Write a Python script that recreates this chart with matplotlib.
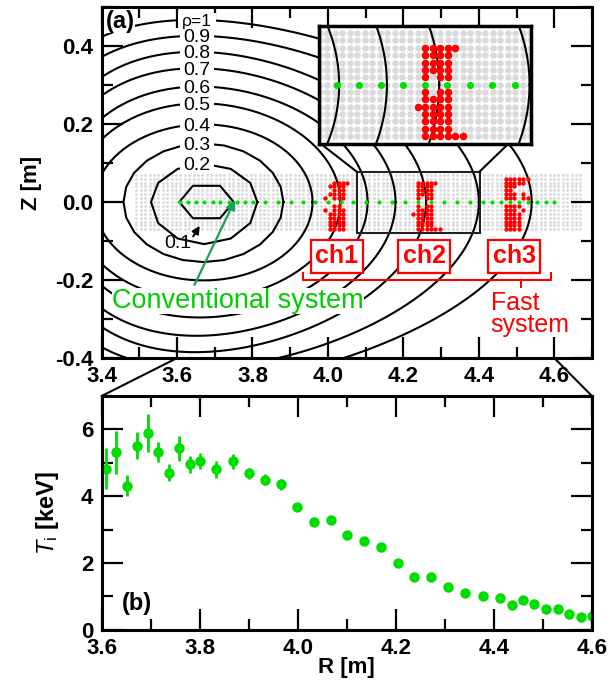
import numpy as np
import matplotlib.pyplot as plt
from matplotlib.patches import Rectangle, ConnectionPatch
from matplotlib.ticker import MultipleLocator, FormatStrFormatter

plt.rcParams['font.family'] = ['Liberation Sans', 'DejaVu Sans']
plt.rcParams['mathtext.fontset'] = 'custom'
plt.rcParams['mathtext.rm'] = 'Liberation Sans'
plt.rcParams['mathtext.it'] = 'Liberation Sans:italic'
plt.rcParams['mathtext.bf'] = 'Liberation Sans:bold'
plt.rcParams['axes.unicode_minus'] = False

# ---- flux surfaces (shape parameters)
rho_levels = [0.1, 0.2, 0.3, 0.4, 0.5, 0.6, 0.7, 0.8, 0.9, 1.0]
rho_text = ['0.1', '0.2', '0.3', '0.4', '0.5', '0.6', '0.7', '0.8', '0.9', 'ρ=1']
surf_R0 = [3.678, 3.672, 3.670, 3.670, 3.680, 3.700, 3.720, 3.750, 3.800, 3.850]
surf_a = [0.072, 0.141, 0.212, 0.289, 0.353, 0.405, 0.459, 0.510, 0.600, 0.690]
surf_top = [0.048, 0.098, 0.150, 0.199, 0.253, 0.296, 0.343, 0.385, 0.426, 0.467]
surf_bot = [0.048, 0.108, 0.154, 0.201, 0.250, 0.296, 0.343, 0.385, 0.426, 0.467]
surf_delta = [0.0, 0.0, 0.0, 0.0, 0.05, 0.10, 0.15, 0.20, 0.25, 0.30]
surf_npts = [6, 12, 24, 200, 200, 200, 200, 200, 200, 200]

# ---- detector grid (grey), fast channels (red), conventional channels (green)
grid_R0, grid_dR, grid_nR = 3.4924, 0.01165, 102
grid_Ztop, grid_dZ, grid_nZ = 0.07, 0.01, 15

fast_names = ['ch1', 'ch2', 'ch3']
fast_col0 = [43, 63, 84]
fast_pattern = [
    ['......', '......', '..####', '.####.', '..###.', '.####.', '#.###.', '......',
     '..##..', '#.###.', '.####.', '.####.', '.####.', '.####.', '.####.'],
    ['.......', '.......', '.#####.', '.####..', '.####..', '.####..', '.#.##..', '.......',
     '.#.##..', '.####..', '#####..', '.####..', '.####..', '.####..', '.######'],
    ['......', '######', '#####.', '###...', '##....', '###.#.', '###.##', '......',
     '####..', '###.#.', '####..', '####..', '####..', '####..', '####..'],
]
fast_label_R = [4.023, 4.255, 4.494]

# ---- Ti profile (conventional system)
R_ti = [3.609, 3.629, 3.651, 3.672, 3.694, 3.715, 3.737, 3.758, 3.780, 3.801,
        3.834, 3.867, 3.901, 3.934, 3.966, 3.999, 4.034, 4.067, 4.101, 4.135,
        4.170, 4.204, 4.238, 4.272, 4.307, 4.342, 4.377, 4.412, 4.436, 4.459,
        4.482, 4.506, 4.531, 4.554, 4.577, 4.599]
Ti = [4.83, 5.31, 4.32, 5.51, 5.89, 5.31, 4.71, 5.43, 4.96, 5.06,
      4.81, 5.05, 4.69, 4.50, 4.36, 3.68, 3.24, 3.29, 2.84, 2.67,
      2.49, 2.01, 1.57, 1.58, 1.29, 1.10, 1.01, 0.96, 0.75, 0.90,
      0.77, 0.63, 0.62, 0.47, 0.39, 0.42]
Ti_err = [0.60, 0.65, 0.31, 0.40, 0.57, 0.30, 0.24, 0.38, 0.25, 0.23,
          0.25, 0.22, 0.17, 0.17, 0.16, 0.10, 0.10, 0.10, 0.10, 0.10,
          0.10, 0.10, 0.10, 0.10, 0.10, 0.10, 0.10, 0.10, 0.10, 0.10,
          0.10, 0.10, 0.10, 0.10, 0.10, 0.10]

GREY = '#dadada'
RED = '#ff0000'
GREEN = '#00dd00'


def surface(i):
    t = np.linspace(0, 2 * np.pi, surf_npts[i] + 1)
    x = np.arcsin(surf_delta[i])
    R = surf_R0[i] + surf_a[i] * np.cos(t + x * np.sin(t))
    Z = np.where(np.sin(t) >= 0, surf_top[i], surf_bot[i]) * np.sin(t)
    return R, Z


grid_R = grid_R0 + grid_dR * np.arange(grid_nR)
grid_Z = grid_Ztop - grid_dZ * np.arange(grid_nZ)
GR, GZ = np.meshgrid(grid_R, grid_Z)

red_R, red_Z = [], []
for col0, pat in zip(fast_col0, fast_pattern):
    for r, row in enumerate(pat):
        for c, ch in enumerate(row):
            if ch == '#':
                red_R.append(grid_R[col0 + c])
                red_Z.append(grid_Z[r])

fig = plt.figure(figsize=(6.11, 6.86), dpi=100)
ax1 = fig.add_axes([0.1663, 0.4781, 0.8026, 0.5117])
ax2 = fig.add_axes([0.1663, 0.0819, 0.8026, 0.3408])


# ---------------- panel (a)
def draw_plasma(ax, big=False):
    ax.scatter(GR.ravel(), GZ.ravel(), s=22 if big else 4.5, color=GREY, lw=0, zorder=1)
    for i in range(len(rho_levels)):
        R, Z = surface(i)
        ax.plot(R, Z, color='black', lw=1.5, zorder=2)
    ax.scatter(red_R, red_Z, s=30 if big else 10, color=RED, lw=0, zorder=3)
    ax.scatter(R_ti, np.zeros(len(R_ti)), s=26 if big else 9, color=GREEN, lw=0, zorder=4)


draw_plasma(ax1)
ax1.set_xlim(3.4, 4.7)
ax1.set_ylim(-0.4, 0.5)

# contour labels: white gap in the line, text on top
label_R = 3.653
for i in range(1, len(rho_levels)):
    w = 0.10 if i == len(rho_levels) - 1 else 0.088
    ax1.add_patch(Rectangle((label_R - w / 2, surf_top[i] - 0.018), w, 0.036,
                            fc='white', ec='none', zorder=5))
    ax1.text(label_R, surf_top[i], rho_text[i], ha='center', va='center_baseline',
             fontsize=14 if i < len(rho_levels) - 1 else 12.5, zorder=6)
ax1.text(3.603, -0.106, rho_text[0], ha='center', va='center', fontsize=14, zorder=6)
ax1.annotate('', xy=(3.664, -0.055), xytext=(3.639, -0.094),
             arrowprops=dict(arrowstyle='-|>', color='black', lw=1.5, mutation_scale=11),
             zorder=6)

# fast system channel boxes and bracket
for name, rl in zip(fast_names, fast_label_R):
    ax1.text(rl, -0.139, name, ha='center', va='center', fontsize=18, fontweight='bold',
             color=RED, zorder=7,
             bbox=dict(boxstyle='square,pad=0.18', facecolor='white', edgecolor=RED, lw=1.6))
br_left, br_right, br_mid = 3.935, 4.591, 4.511
ax1.plot([br_left, br_left, br_right, br_right], [-0.183, -0.2, -0.2, -0.183],
         color=RED, lw=1.5, zorder=7)
ax1.plot([br_mid, br_mid], [-0.2, -0.219], color=RED, lw=1.5, zorder=7)
ax1.text(4.431, -0.229, 'Fast\nsystem', ha='left', va='top', multialignment='left',
         linespacing=0.88, fontsize=18, color=RED, zorder=6)

ax1.text(3.427, -0.272, 'Conventional system', ha='left', va='baseline', fontsize=19.5,
         color='#00cc00', zorder=6, bbox=dict(facecolor='white', edgecolor='none', pad=0.2))
ax1.annotate('', xy=(3.757, 0.012), xytext=(3.643, -0.219),
             arrowprops=dict(arrowstyle='-|>', color='#16a05a', lw=1.6, mutation_scale=14),
             zorder=7)

ax1.text(3.41, 0.493, '(a)', ha='left', va='top', fontsize=17, fontweight='bold', zorder=8,
         bbox=dict(facecolor='white', edgecolor='none', pad=0.5))

# zoom rectangle and inset
zoom_R = (4.076, 4.402)
zoom_Z = (-0.08, 0.078)
ax1.add_patch(Rectangle((zoom_R[0], zoom_Z[0]), zoom_R[1] - zoom_R[0], zoom_Z[1] - zoom_Z[0],
                        fill=False, ec='#222222', lw=1.5, zorder=5))
ins_R = (3.975, 4.538)
ins_Z = (0.150, 0.452)
axins = ax1.inset_axes([ins_R[0], ins_Z[0], ins_R[1] - ins_R[0], ins_Z[1] - ins_Z[0]],
                       transform=ax1.transData, zorder=9)
draw_plasma(axins, big=True)
axins.set_xlim(4.073, 4.402)
axins.set_ylim(-0.08, 0.08)
axins.set_xticks([])
axins.set_yticks([])
for sp in axins.spines.values():
    sp.set_linewidth(2.5)
ax1.plot([3.98, zoom_R[0]], [ins_Z[0], zoom_Z[1]], color='black', lw=1.5, zorder=5)
ax1.plot([4.479, zoom_R[1]], [ins_Z[0], zoom_Z[1]], color='black', lw=1.5, zorder=5)

ax1.xaxis.set_major_locator(MultipleLocator(0.2))
ax1.xaxis.set_minor_locator(MultipleLocator(0.1))
ax1.yaxis.set_major_locator(MultipleLocator(0.2))
ax1.yaxis.set_minor_locator(MultipleLocator(0.1))
ax1.xaxis.set_major_formatter(FormatStrFormatter('%.1f'))
ax1.yaxis.set_major_formatter(FormatStrFormatter('%.1f'))
ax1.set_ylabel('Z [m]', fontsize=16, fontweight='bold')
ax1.yaxis.set_label_coords(-0.122, 0.5)

# ---------------- panel (b)
ax2.errorbar(R_ti, Ti, yerr=Ti_err, fmt='o', color=GREEN, ms=6.5, elinewidth=2, capsize=0,
             mec=GREEN)
ax2.set_xlim(3.6, 4.6)
ax2.set_ylim(0, 7)
ax2.xaxis.set_major_locator(MultipleLocator(0.2))
ax2.xaxis.set_minor_locator(MultipleLocator(0.1))
ax2.yaxis.set_major_locator(MultipleLocator(2))
ax2.yaxis.set_minor_locator(MultipleLocator(1))
ax2.xaxis.set_major_formatter(FormatStrFormatter('%.1f'))
ax2.yaxis.set_major_formatter(FormatStrFormatter('%d'))
ax2.set_xlabel('R [m]', fontsize=16, fontweight='bold')
ax2.xaxis.set_label_coords(0.5, -0.115)
ax2.set_ylabel(r'$\mathit{T}_\mathrm{i}$ [keV]', fontsize=17, fontweight='bold')
ax2.yaxis.set_label_coords(-0.082, 0.5)
ax2.text(3.641, 0.78, '(b)', ha='left', va='center', fontsize=17, fontweight='bold')

for ax in (ax1, ax2):
    ax.tick_params(which='both', direction='in', top=True, right=True, width=1.6)
    ax.tick_params(which='major', length=15, labelsize=16, pad=6)
    ax.tick_params(which='minor', length=8)
    for sp in ax.spines.values():
        sp.set_linewidth(2.2)
    for lab in ax.get_xticklabels() + ax.get_yticklabels():
        lab.set_fontweight('bold')

# connectors between panels
for rc in (3.6, 4.6):
    con = ConnectionPatch(xyA=(rc, -0.4), coordsA=ax1.transData,
                          xyB=(rc, 7), coordsB=ax2.transData, color='black', lw=1.5)
    fig.add_artist(con)

fig.savefig('out.png', dpi=100)
